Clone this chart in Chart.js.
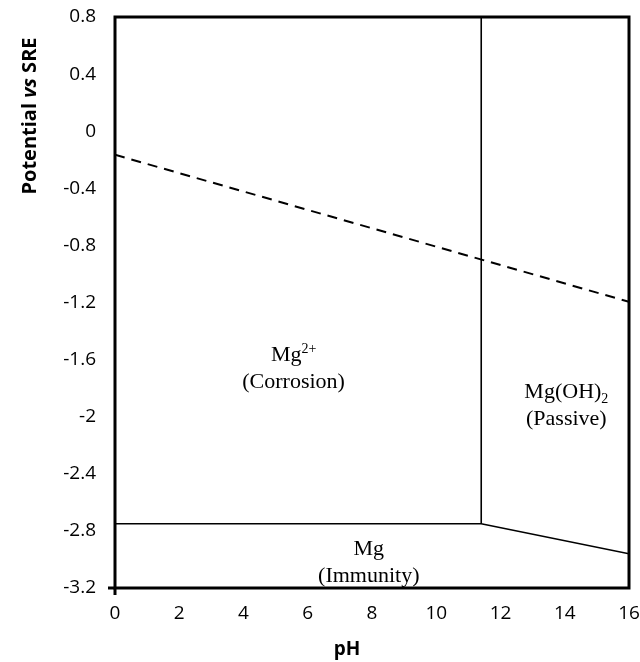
<!DOCTYPE html>
<html>
<head>
<meta charset="utf-8">
<script src="https://cdn.jsdelivr.net/npm/chart.js@4"></script>
<style>
    html, body { margin: 0; padding: 0; background: #fff; }
    #wrap { width: 640px; height: 662px; }
</style>
</head>
<body>
<div id="wrap"><canvas id="pourbaix"></canvas></div>
<script>
// Mg Pourbaix diagram: boundary lines (pH vs potential / V SRE)
const passiveBoundaryPH = [11.4, 11.4];
const passiveBoundaryE = [-2.75, 0.8];
const immunityBoundaryPH = [0, 11.4, 16];
const immunityBoundaryE = [-2.75, -2.75, -2.96];
const waterLinePH = [0, 16];
const waterLineE = [-0.165, -1.195];

// tick labels
const phTicks = [0, 2, 4, 6, 8, 10, 12, 14, 16];
const potentialTicks = [-3.2, -2.8, -2.4, -2, -1.6, -1.2, -0.8, -0.4, 0, 0.4, 0.8];

// region names, placed at (pH, potential)
const regionNames = [
    { pH: 5.56, E: -1.57, main: 'Mg', sup: '2+', sub: '', note: '(Corrosion)' },
    { pH: 14.05, E: -1.83, main: 'Mg(OH)', sup: '', sub: '2', note: '(Passive)' },
    { pH: 7.9, E: -2.93, main: 'Mg', sup: '', sub: '', note: '(Immunity)' }
];

const toPoints = (xs, ys) => xs.map((x, i) => ({ x: x, y: ys[i] }));

function boundary(xs, ys, dashed) {
    return {
        data: toPoints(xs, ys), showLine: true, fill: false,
        borderColor: '#000', borderWidth: dashed ? 2 : 1.6,
        borderDash: dashed ? [10, 7] : [],
        pointRadius: 0, tension: 0
    };
}

// frame around the plot area, region labels and the axis titles
const decorations = {
    id: 'decorations',
    afterDatasetsDraw(chart) {
        const { ctx, chartArea: a, scales } = chart;
        ctx.save();
        ctx.strokeStyle = '#000';
        ctx.lineWidth = 3;
        ctx.strokeRect(a.left, a.top, a.right - a.left, a.bottom - a.top);
        // little tick marks at the origin
        ctx.beginPath();
        ctx.moveTo(a.left - 7, a.bottom);
        ctx.lineTo(a.left, a.bottom);
        ctx.moveTo(a.left, a.bottom);
        ctx.lineTo(a.left, a.bottom + 7);
        ctx.stroke();

        ctx.fillStyle = '#000';
        ctx.textBaseline = 'middle';
        const big = '22px "Liberation Serif"';
        const small = '14px "Liberation Serif"';
        regionNames.forEach(r => {
            const px = scales.x.getPixelForValue(r.pH);
            const py = scales.y.getPixelForValue(r.E);
            ctx.font = big;
            const w1 = ctx.measureText(r.main).width;
            ctx.font = small;
            const w2 = ctx.measureText(r.sup + r.sub).width;
            const x0 = px - (w1 + w2) / 2;
            ctx.textAlign = 'left';
            ctx.font = big;
            ctx.fillText(r.main, x0, py);
            ctx.font = small;
            if (r.sup) ctx.fillText(r.sup, x0 + w1, py - 6);
            if (r.sub) ctx.fillText(r.sub, x0 + w1, py + 7);
            ctx.font = big;
            ctx.textAlign = 'center';
            ctx.fillText(r.note, px, py + 27);
        });

        // x axis title
        ctx.font = 'bold 19px "Open Sans"';
        ctx.textAlign = 'center';
        ctx.fillText('pH', 347, 650);

        // y axis title with italic "vs"
        const parts = [
            ['Potential ', 'bold 20px "Open Sans"'],
            ['vs', 'italic bold 20px "Open Sans"'],
            [' SRE', 'bold 20px "Open Sans"']
        ];
        let total = 0;
        parts.forEach(p => { ctx.font = p[1]; total += ctx.measureText(p[0]).width; });
        ctx.translate(30, 116);
        ctx.rotate(-Math.PI / 2);
        ctx.textAlign = 'left';
        let x = -total / 2;
        parts.forEach(p => {
            ctx.font = p[1];
            ctx.fillText(p[0], x, 0);
            x += ctx.measureText(p[0]).width;
        });
        ctx.restore();
    }
};

new Chart(document.getElementById('pourbaix').getContext('2d'), {
    type: 'scatter',
    data: {
        datasets: [
            boundary(passiveBoundaryPH, passiveBoundaryE, false),
            boundary(immunityBoundaryPH, immunityBoundaryE, false),
            boundary(waterLinePH, waterLineE, true)
        ]
    },
    options: {
        responsive: true,
        maintainAspectRatio: false,
        animation: false,
        layout: { padding: { top: 17, right: 11, left: 0, bottom: 0 } },
        plugins: { legend: { display: false }, tooltip: { enabled: false } },
        scales: {
            x: {
                type: 'linear', min: 0, max: 16,
                afterBuildTicks: s => { s.ticks = phTicks.map(v => ({ value: v })); },
                afterFit: s => { s.height = 74; s.paddingLeft = 0; s.paddingRight = 0; },
                grid: { display: false, drawTicks: false },
                border: { display: false },
                ticks: { color: '#000', padding: 14, maxRotation: 0, font: { family: 'Open Sans', size: 19 } }
            },
            y: {
                type: 'linear', min: -3.2, max: 0.8,
                afterBuildTicks: s => { s.ticks = potentialTicks.map(v => ({ value: v })); },
                afterFit: s => { s.width = 115; s.paddingTop = 0; s.paddingBottom = 0; },
                grid: { display: false, drawTicks: false },
                border: { display: false },
                ticks: {
                    color: '#000', padding: 19, font: { family: 'Open Sans', size: 19 },
                    callback: v => String(Number(v.toFixed(1)))
                }
            }
        }
    },
    plugins: [decorations]
});
</script>
</body>
</html>
